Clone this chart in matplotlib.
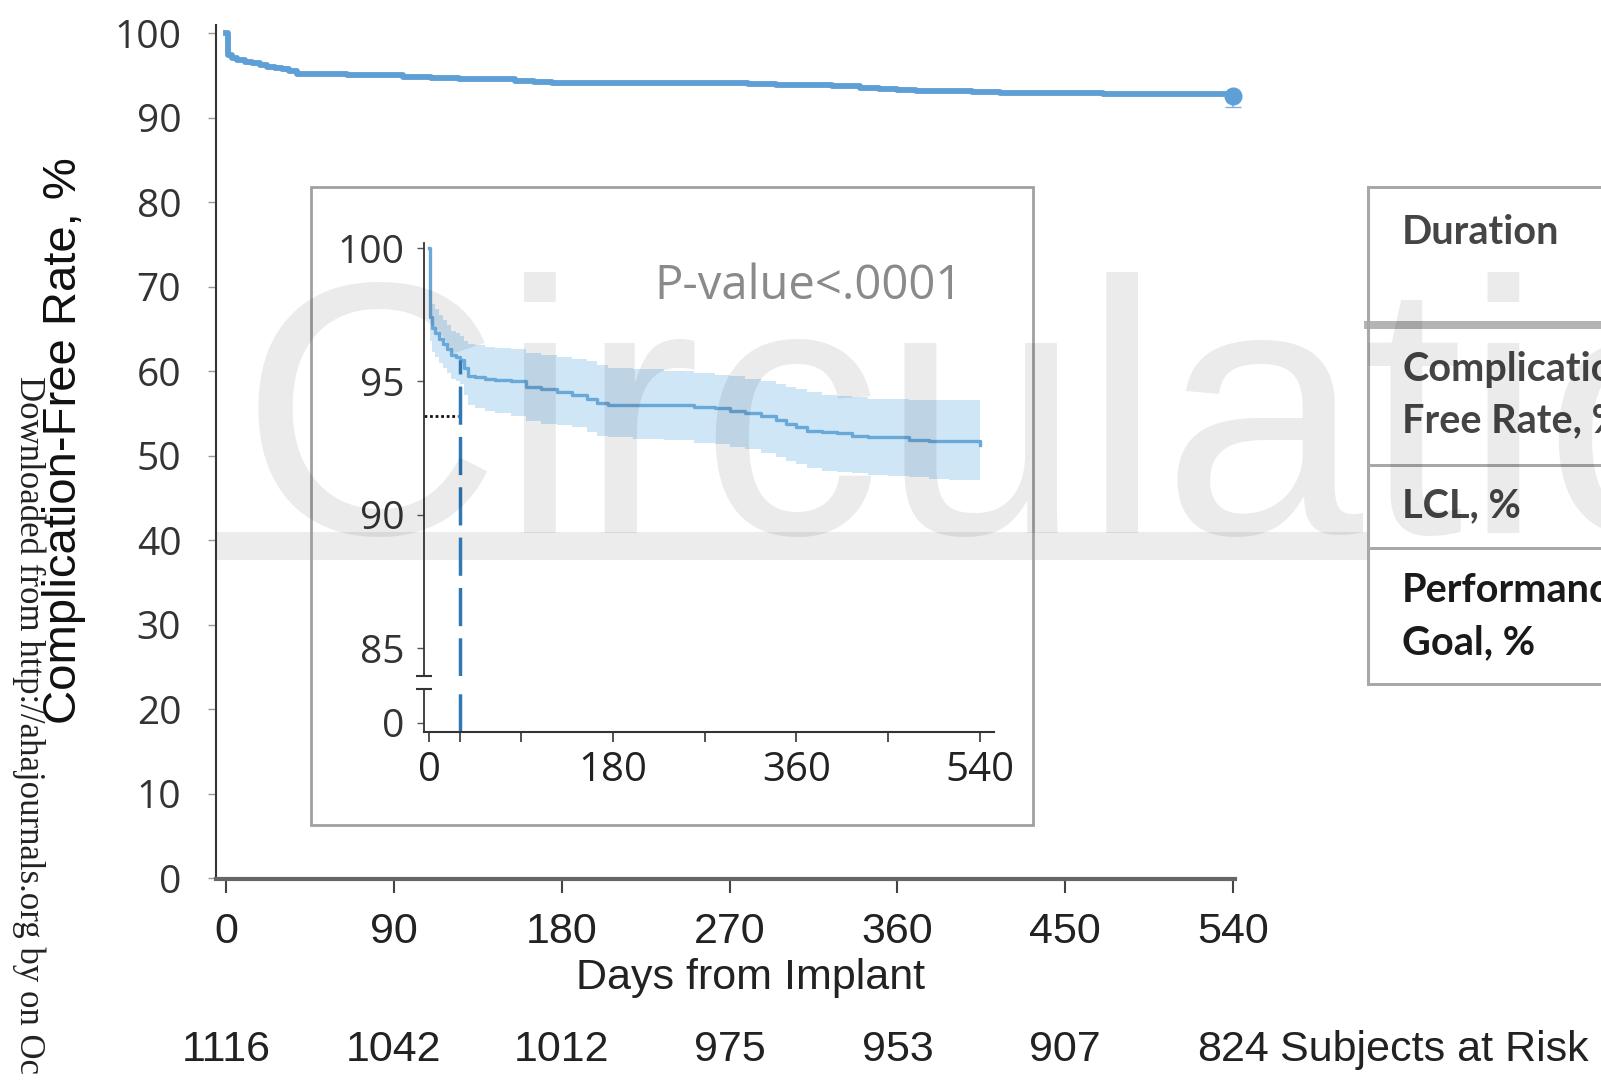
import matplotlib
matplotlib.use("Agg")
import matplotlib.pyplot as plt
import matplotlib.transforms as mtransforms
from matplotlib.patches import Rectangle
from matplotlib.lines import Line2D

# Kaplan-Meier style complication-free curve
days = [0, 1, 3, 6, 10, 14, 18, 22, 26, 30, 34, 38, 45, 55, 65, 80, 95, 110,
        125, 140, 155, 165, 175, 200, 230, 260, 280, 295, 310, 325, 340, 350,
        360, 370, 385, 400, 415, 430, 450, 470, 490, 510, 530, 540]
rate = [100, 97.4, 97.0, 96.8, 96.6, 96.4, 96.2, 96.0, 95.9, 95.8, 95.5, 95.2,
        95.15, 95.1, 95.05, 95.0, 94.8, 94.7, 94.6, 94.5, 94.35, 94.2, 94.1,
        94.1, 94.1, 94.05, 94.0, 93.9, 93.8, 93.7, 93.55, 93.4, 93.3, 93.15,
        93.1, 93.05, 92.95, 92.9, 92.9, 92.8, 92.75, 92.75, 92.75, 92.6]
upper = [100, 98.3, 97.9, 97.7, 97.5, 97.3, 97.1, 96.9, 96.8, 96.7, 96.5, 96.4,
         96.35, 96.3, 96.25, 96.2, 96.05, 96.0, 95.9, 95.85, 95.75, 95.6, 95.5,
         95.45, 95.4, 95.3, 95.25, 95.2, 95.1, 95.0, 94.9, 94.8, 94.7, 94.6,
         94.5, 94.45, 94.4, 94.35, 94.35, 94.3, 94.3, 94.3, 94.3, 94.2]
lower = [100, 96.5, 96.1, 95.9, 95.7, 95.5, 95.3, 95.1, 95.0, 94.9, 94.5, 94.1,
         94.0, 93.9, 93.8, 93.7, 93.5, 93.4, 93.35, 93.3, 93.1, 92.95, 92.9,
         92.85, 92.8, 92.7, 92.65, 92.55, 92.45, 92.3, 92.15, 92.0, 91.9, 91.75,
         91.65, 91.6, 91.55, 91.5, 91.45, 91.4, 91.35, 91.3, 91.3, 91.2]

end_day, end_rate, end_lcl = 540, 92.6, 91.3
cut_day = 30          # dashed marker in inset
goal_level = 93.7     # dotted marker in inset

risk_days = [0, 90, 180, 270, 360, 450, 540]
at_risk = [1116, 1042, 1012, 975, 953, 907, 824]

main_yticks = list(range(0, 101, 10))
inset_yticks = [85, 90, 95, 100]
inset_xticks = [0, 30, 90, 180, 270, 360, 450, 540]
inset_xlabels = ['0', '', '', '180', '', '360', '', '540']

table_rows = ['Duration', 'Complication-\nFree Rate, %', 'LCL, %',
              'Performance\nGoal, %']

W, H = 1601, 1081
def fx(px): return px / W
def fy(py): return 1 - py / H

helv = ['Liberation Sans', 'DejaVu Sans']
segoe = ['Open Sans', 'DejaVu Sans']
blue = '#5e9fd6'

fig = plt.figure(figsize=(W / 100, H / 100), dpi=100)

# watermark underline band
fig.add_artist(Rectangle((fx(216), fy(560)), fx(1368) - fx(216), 28 / H,
                         transform=fig.transFigure, color='#ececec', lw=0, zorder=-1))

# ---- main axes ----
ax = fig.add_axes([fx(216), fy(879), 1019 / W, (879 - 25.4) / H])
ax.set_facecolor('none')
ax.plot(days, rate, drawstyle='steps-post', color=blue, lw=4.2, solid_joinstyle='round')
ax.errorbar([end_day], [end_rate], yerr=[[end_rate - end_lcl], [0]], fmt='o', ms=12,
            color=blue, ecolor='#7fb3de', elinewidth=1.2, capsize=6, clip_on=False)
ax.set_xlim(-5.4, 541)
ax.set_ylim(-0.1, 100.9)
ax.set_xticks(risk_days)
ax.set_yticks(main_yticks)
ax.set_xticklabels([str(d) for d in risk_days], family=helv, fontsize=31, color='#222')
ax.set_yticklabels([str(v) for v in main_yticks], family=segoe, fontsize=28, color='#333')
for s in ['top', 'right']:
    ax.spines[s].set_visible(False)
ax.spines['left'].set_color('#333')
ax.spines['left'].set_linewidth(1.5)
ax.spines['bottom'].set_color('#666')
ax.spines['bottom'].set_linewidth(3)
ax.tick_params(axis='y', length=6, width=1, color='#999', pad=19)
ax.tick_params(axis='x', length=10, width=1.5, color='#444', pad=14)

fig.text(fx(751), fy(978), 'Days from Implant', family=helv, fontsize=31,
         ha='center', va='center', color='#222')
fig.text(fx(64), fy(441), 'Complication-Free Rate, %', family=helv, fontsize=34,
         rotation=90, ha='center', va='center', color='#111')

trans = mtransforms.blended_transform_factory(ax.transData, fig.transFigure)
for d, n in zip(risk_days, at_risk):
    ax.text(d, fy(1050), str(n), transform=trans, family=helv, fontsize=31,
            ha='center', va='center', color='#222')
fig.text(fx(1280), fy(1050), 'Subjects at Risk', family=helv, fontsize=31,
         ha='left', va='center', color='#222')

fig.text(fx(29), fy(376), 'Downloaded from http://ahajournals.org by on Oc',
         family=['Liberation Serif', 'DejaVu Serif'], fontsize=25, rotation=-90,
         ha='center', va='top', color='#222')

# ---- inset frame ----
fig.add_artist(Rectangle((fx(311), fy(825)), (1033 - 311) / W, (825 - 187) / H,
                         transform=fig.transFigure, fill=False, ec='#a0a0a0', lw=2, zorder=2))

# ---- inset, broken y-axis ----
ix0, iw = fx(424), 570.3 / W
ax_t = fig.add_axes([ix0, fy(676), iw, (676 - 242.7) / H], zorder=3)
ax_b = fig.add_axes([ix0, fy(732), iw, (732 - 689) / H], zorder=3)
for a in (ax_t, ax_b):
    a.set_facecolor('none')
    a.set_xlim(-4.9, 554)
    a.spines['top'].set_visible(False)
    a.spines['right'].set_visible(False)
    a.spines['left'].set_color('#333')
    a.spines['left'].set_linewidth(1.3)
ax_t.set_ylim(83.95, 100.2)
ax_b.set_ylim(-0.34, 1.275)
ax_t.spines['bottom'].set_visible(False)
ax_b.spines['bottom'].set_color('#333')
ax_b.spines['bottom'].set_linewidth(1.5)

ax_t.fill_between(days, lower, upper, step='post', color='#c4e0f5', alpha=0.8, lw=0)
ax_t.plot(days, rate, drawstyle='steps-post', color='#6aa8d8', lw=2.4)
cut_rate = rate[days.index(cut_day)]
dash = (0, (11, 3.5))
ax_t.plot([cut_day, cut_day], [83.95, cut_rate], color='#2f78b4', lw=2.5, ls=dash)
ax_b.plot([cut_day, cut_day], [-0.34, 1.275], color='#2f78b4', lw=2.5, ls=dash)
ax_t.plot([-4.9, cut_day - 2], [goal_level, goal_level], color='#111', lw=2, ls=(0, (1, 1)))

ax_t.set_xticks([])
ax_t.set_yticks(inset_yticks)
ax_t.set_yticklabels([str(v) for v in inset_yticks], family=segoe, fontsize=28, color='#333')
ax_b.set_yticks([0])
ax_b.set_yticklabels(['0'], family=segoe, fontsize=28, color='#333')
ax_b.set_xticks(inset_xticks)
ax_b.set_xticklabels(inset_xlabels, family=segoe, fontsize=29, color='#222')
for a in (ax_t, ax_b):
    a.tick_params(axis='y', length=5, width=1, color='#555', pad=9)
ax_b.tick_params(axis='x', length=7, width=1.2, color='#333', pad=6)

# break marks on the inset y-axis
ax_t.plot([0], [0], marker='_', ms=12, mew=1.5, color='#333', transform=ax_t.transAxes, clip_on=False)
ax_b.plot([0], [1], marker='_', ms=12, mew=1.5, color='#333', transform=ax_b.transAxes, clip_on=False)

ax_t.text(0.675, 0.9, 'P-value<.0001', transform=ax_t.transAxes, family=segoe,
          fontsize=34, color='#8a8a8a', ha='center', va='center')

# ---- table on the right (cut by the figure edge) ----
fig.add_artist(Rectangle((fx(1368), fy(684)), (W - 1368) / W, (684 - 187) / H,
                         transform=fig.transFigure, color='white', lw=0, zorder=1))
for py, lw, col in [(187, 3, '#a8a8a8'), (325, 8, '#b4b4b4'), (465, 3, '#a8a8a8'),
                    (548, 3, '#a8a8a8'), (684, 3, '#a8a8a8')]:
    fig.add_artist(Line2D([fx(1368), 1.0], [fy(py), fy(py)], transform=fig.transFigure,
                          color=col, lw=lw * 0.72, zorder=2))
fig.add_artist(Line2D([fx(1368), fx(1368)], [fy(187), fy(684)], transform=fig.transFigure,
                      color='#a8a8a8', lw=2.2, zorder=2))
row_y = [233, 395, 506, 617]
row_col = ['#454545', '#454545', '#454545', '#1a1a1a']
for txt, py, c in zip(table_rows, row_y, row_col):
    fig.text(fx(1402), fy(py), txt, family=['Lato', 'DejaVu Sans'], fontweight='bold',
             fontsize=28.5, color=c, ha='left', va='center', linespacing=1.5, zorder=3)

# watermark
fig.text(fx(240), fy(533), 'Circulation', family=['Liberation Sans', 'DejaVu Sans'],
         fontsize=260, color='black', alpha=0.08, ha='left', va='baseline', zorder=10)

fig.savefig('out.png', dpi=100)
